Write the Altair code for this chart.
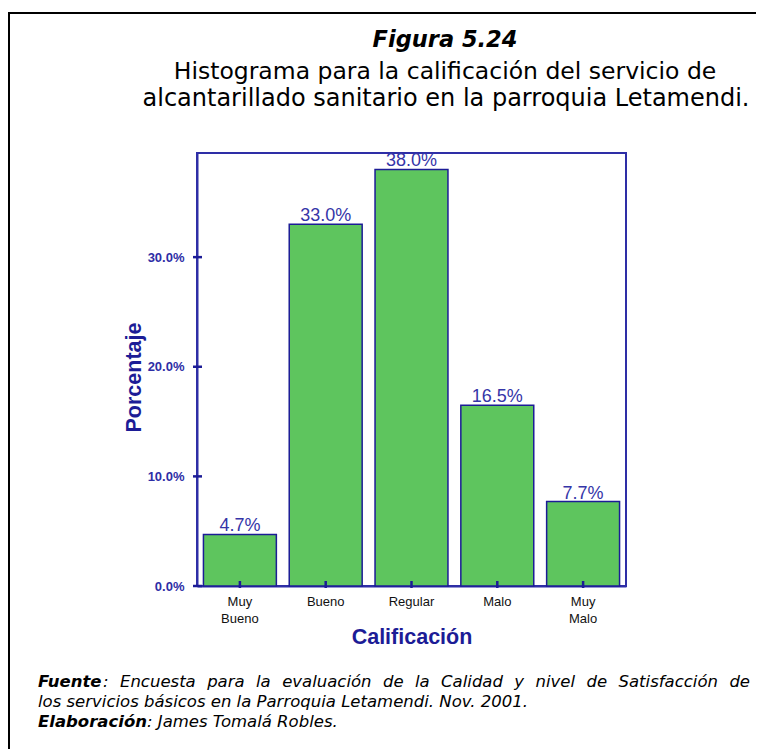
import altair as alt
import pandas as pd

categories = ["Muy Bueno", "Bueno", "Regular", "Malo", "Muy Malo"]
values = [4.7, 33.0, 38.0, 16.5, 7.7]
labels = ["4.7%", "33.0%", "38.0%", "16.5%", "7.7%"]
y_ticks = [0, 10, 20, 30]

title_main = "Figura 5.24"
subtitle_lines = ["Histograma para la calificación del servicio de",
                  "alcantarillado sanitario en la parroquia Letamendi."]
fuente_bold = "Fuente"
fuente_words = ["Encuesta", "para", "la", "evaluación", "de", "la", "Calidad",
                "y", "nivel", "de", "Satisfacción", "de"]
fuente_line2 = "los servicios básicos en la Parroquia Letamendi. Nov. 2001."
elab_bold = "Elaboración"
elab_rest = ": James Tomalá Robles."

NAVY = "#2e2ea6"
NAVY_D = "#1c1c96"
W, H = 429, 433
FS = 16.5          # footnote font size
X0, X1 = -159, 553  # footnote line extent relative to plot origin

# DejaVu Sans advance widths (em) for justifying the first footnote line
REG = {"a": .613, "b": .635, "c": .550, "d": .635, "e": .615, "f": .352, "g": .635,
       "h": .634, "i": .278, "j": .278, "k": .579, "l": .278, "m": .974, "n": .634,
       "o": .612, "p": .635, "q": .635, "r": .411, "s": .521, "t": .392, "u": .634,
       "v": .592, "w": .818, "x": .592, "y": .592, "z": .525, "á": .613, "ó": .612,
       "C": .698, "E": .632, "S": .635, ":": .337}
BOLD = {"F": .683, "u": .712, "e": .678, "n": .712, "t": .478}

def wid(s, table):
    return sum(table.get(c, .6) for c in s) * FS

df = pd.DataFrame({"cat": categories, "val": values, "lab": labels})
dft = pd.DataFrame({"v": y_ticks})

xs = alt.X("cat:N", sort=categories,
           scale=alt.Scale(paddingInner=0.15, paddingOuter=0.075),
           axis=alt.Axis(title="Calificación", labelAngle=0, ticks=False,
                         labelExpr="split(datum.label, ' ')",
                         labelFont="Liberation Sans", labelFontSize=13,
                         labelColor="#111111", labelLineHeight=17,
                         labelPadding=9, labelBaseline="top",
                         titleFont="Liberation Sans", titleFontSize=21.5,
                         titleFontWeight="bold", titleColor=NAVY_D,
                         titleY=57, titleBaseline="alphabetic",
                         domainColor=NAVY, domainWidth=2))
ys = alt.Y("val:Q", scale=alt.Scale(domain=[0, 39.5], nice=False),
           axis=alt.Axis(title="Porcentaje", values=y_ticks, ticks=False,
                         labelExpr="format(datum.value, '.1f') + '%'",
                         labelFont="Liberation Sans", labelFontSize=13,
                         labelFontWeight="bold", labelColor=NAVY,
                         labelPadding=13, grid=False,
                         titleFont="Liberation Sans", titleFontSize=21.5,
                         titleFontWeight="bold", titleColor=NAVY_D,
                         titleX=-57, titleY=224, titleAngle=-90,
                         titleBaseline="alphabetic", titleAlign="center",
                         domainColor=NAVY, domainWidth=2))

bars = alt.Chart(df).mark_bar(color="#5ec55e", stroke=NAVY_D, strokeWidth=1.5).encode(x=xs, y=ys)
vlabels = alt.Chart(df).mark_text(font="Liberation Sans", fontSize=18, color="#3535a8",
                                  baseline="alphabetic", dy=-3).encode(
    x=alt.X("cat:N", sort=categories), y="val:Q", text="lab:N")
xticks = alt.Chart(df).mark_rule(color=NAVY_D, strokeWidth=2.5).encode(
    x=alt.X("cat:N", sort=categories), y=alt.value(H - 5), y2=alt.value(H + 2))
yticks = alt.Chart(dft).mark_rule(color=NAVY_D, strokeWidth=2.5).encode(
    y=alt.Y("v:Q"), x=alt.value(-4), x2=alt.value(5))

frame = alt.Chart(pd.DataFrame({"a": [0]})).mark_rect(
    fill=None, stroke="#000000", strokeWidth=2).encode(
    x=alt.value(-188), x2=alt.value(600), y=alt.value(-140), y2=alt.value(700))

def txt(s, x, y, size, weight="normal", style="normal", align="center", font="DejaVu Sans", color="#000000"):
    return alt.Chart(pd.DataFrame({"t": [s]})).mark_text(
        font=font, fontSize=size, fontWeight=weight, fontStyle=style,
        align=align, baseline="alphabetic", color=color).encode(
        text="t:N", x=alt.value(x), y=alt.value(y))

# justified first footnote line
wF = wid(fuente_bold, BOLD)
wC = wid(":", REG)
natural = wF + wC + sum(wid(w, REG) for w in fuente_words)
gap = (X1 - X0 - natural) / len(fuente_words)
line1 = [txt(fuente_bold, X0, 534, FS, weight="bold", style="italic", align="left"),
         txt(":", X0 + wF, 534, FS, style="italic", align="left")]
xc = X0 + wF + wC
for w in fuente_words:
    xc += gap
    line1.append(txt(w, xc, 534, FS, style="italic", align="left"))
    xc += wid(w, REG)

texts = [
    txt(title_main, 248, -106, 22.5, weight="bold", style="italic"),
    txt(subtitle_lines[0], 248, -74, 23.5),
    txt(subtitle_lines[1], 249, -47, 24),
    *line1,
    txt(fuente_line2, X0, 554, FS, style="italic", align="left"),
    txt(elab_bold, -50, 574, FS, weight="bold", style="italic", align="right"),
    txt(elab_rest, -50, 574, FS, style="italic", align="left"),
]

chart = alt.layer(frame, bars, vlabels, xticks, yticks, *texts).properties(
    width=W, height=H, background="white",
    padding={"left": 189, "top": 145, "right": 130, "bottom": 163},
    autosize=alt.AutoSizeParams(type="none"),
).configure_view(stroke=NAVY, strokeWidth=2)

chart.save("out.html", embed_options={"renderer": "svg", "actions": False})
